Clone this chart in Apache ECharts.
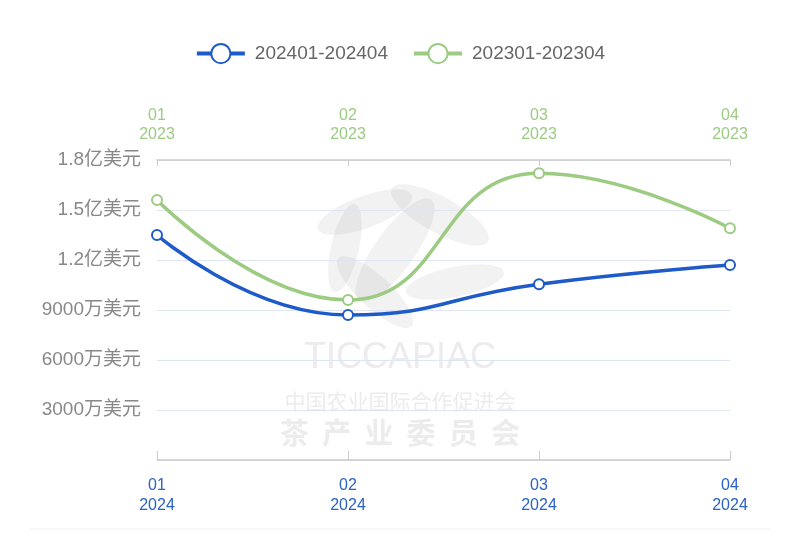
<!DOCTYPE html>
<html><head><meta charset="utf-8">
<script src="https://cdn.jsdelivr.net/npm/echarts@6/dist/echarts.min.js"></script>
<style>html,body{margin:0;padding:0;background:#fff}#c{width:800px;height:535px}</style>
</head><body><div id="c"></div>
<script>
const months = ['01','02','03','04'];
const year2024 = '2024';
const year2023 = '2023';
const series2024Name = '202401-202404';
const series2023Name = '202301-202304';
const values2024 = [135000000, 87000000, 105500000, 117000000];
const values2023 = [156000000, 96000000, 172000000, 139000000];

const chart = echarts.init(document.getElementById('c'));
const font = 'Helvetica, Arial, "Liberation Sans", "Noto Sans CJK SC", sans-serif';
function fmtY(v){
  if (v === 0) return '';
  if (v >= 100000000) return (v/100000000).toFixed(1) + '亿美元';
  return (v/10000) + '万美元';
}
const leafFill = 'rgba(0,0,0,0.05)';
function leaf(x, y, rot, rx, ry){
  return {type:'ellipse', x:x, y:y, rotation:rot, z:-10, silent:true,
    shape:{cx:0, cy:0, rx:rx, ry:ry}, style:{fill:leafFill}};
}
chart.setOption({
  animation:false,
  textStyle:{fontFamily:font},
  legend:{
    top:38, left:'center', itemWidth:48, itemHeight:24, itemGap:24,
    textStyle:{color:'#666', fontSize:19, fontFamily:font, padding:[0,0,0,5]},
    itemStyle:{borderWidth:3.5},
    lineStyle:{width:4},
    data:[series2024Name, series2023Name]
  },
  graphic:[
    leaf(365, 212, 0.35, 50, 16),
    leaf(440, 215, -0.5, 55, 18),
    leaf(395, 250, 0.95, 62, 20),
    leaf(375, 292, -0.75, 50, 16),
    leaf(455, 282, 0.2, 50, 15),
    leaf(345, 248, 1.35, 45, 14),
    {type:'text', left:'center', top:340, z:-5, silent:true, style:{text:'TICCAPIAC', fill:'#ececec', font:'36px "Liberation Sans", sans-serif'}},
    {type:'text', left:'center', top:391, z:-5, silent:true, style:{text:'中国农业国际合作促进会', fill:'#ececec', font:'21px "Noto Sans CJK SC", sans-serif'}},
    {type:'text', left:'center', top:418, z:-5, silent:true, style:{text:'茶  产  业  委  员  会', fill:'#ececec', font:'bold 29px "Noto Sans CJK SC", serif'}},
    {type:'line', z:-5, silent:true, shape:{x1:30, y1:529, x2:770, y2:529}, style:{stroke:'#f0f0f0', lineWidth:1}}
  ],
  grid:{left:157, right:70, top:160, bottom:75, containLabel:false},
  xAxis:[
    {type:'category', position:'bottom', boundaryGap:false, z:2,
     data: months.map(m => m + '\n' + year2024),
     axisLine:{lineStyle:{color:'#ccc', width:1.5}},
     axisTick:{inside:true, length:9, lineStyle:{color:'#ccc'}},
     axisLabel:{color:'#2a62c6', fontSize:16, margin:16, lineHeight:20}
    },
    {type:'category', position:'top', boundaryGap:false, z:2,
     data: months.map(m => m + '\n' + year2023),
     axisLine:{lineStyle:{color:'#ccc', width:1.5}},
     axisTick:{inside:true, length:6, lineStyle:{color:'#ccc'}},
     axisLabel:{color:'#9ccb82', fontSize:16, margin:16, lineHeight:19}
    }
  ],
  yAxis:{
    type:'value', min:0, max:180000000, interval:30000000, z:2,
    axisLine:{show:false}, axisTick:{show:false},
    axisLabel:{color:'#888', fontSize:19, margin:16, formatter:fmtY},
    splitLine:{lineStyle:{color:'#dfe5f3', width:1}}
  },
  series:[
    {name:series2024Name, type:'line', smooth:true, xAxisIndex:0, data:values2024,
     symbol:'emptyCircle', symbolSize:10, z:3,
     lineStyle:{color:'#1f5bc8', width:3.5},
     itemStyle:{color:'#1f5bc8', borderWidth:3}},
    {name:series2023Name, type:'line', smooth:true, xAxisIndex:1, data:values2023,
     symbol:'emptyCircle', symbolSize:10, z:3,
     lineStyle:{color:'#9ccb82', width:3.5},
     itemStyle:{color:'#9ccb82', borderWidth:3}}
  ]
});
</script></body></html>
